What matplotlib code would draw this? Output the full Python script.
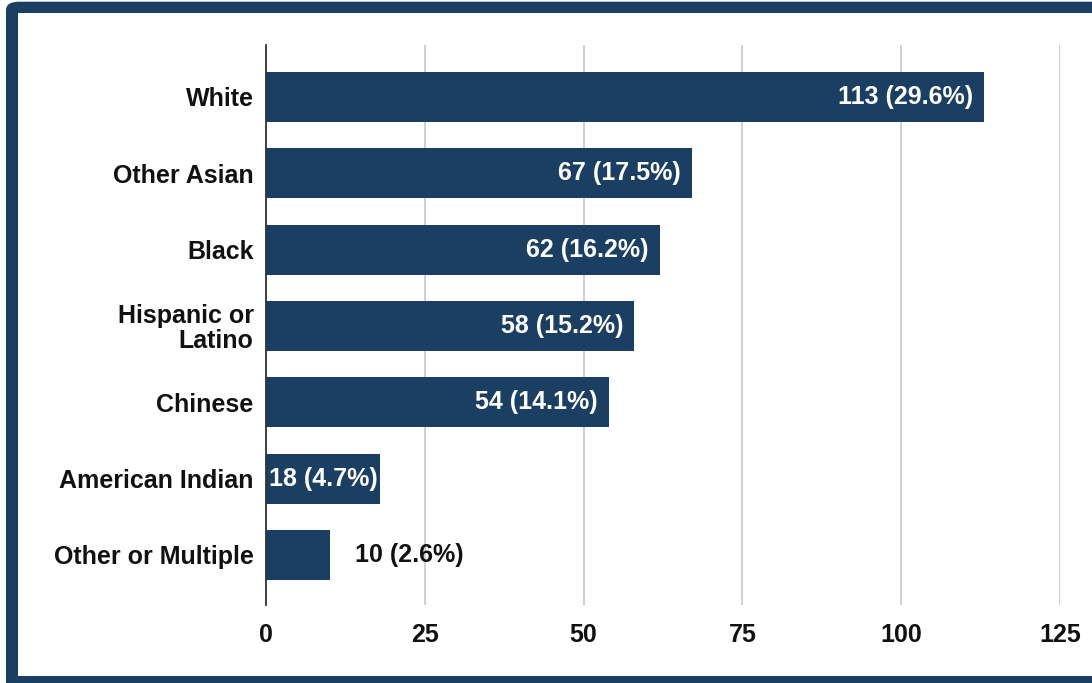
import matplotlib
matplotlib.use("Agg")
import matplotlib.pyplot as plt
from matplotlib.patches import FancyBboxPatch, Rectangle

plt.rcParams['font.family'] = ['Liberation Sans', 'DejaVu Sans']
plt.rcParams['font.weight'] = 'bold'

groups = ["White", "Other Asian", "Black", "Hispanic or\nLatino", "Chinese",
          "American Indian", "Other or Multiple"]
counts = [113, 67, 62, 58, 54, 18, 10]
shares = [29.6, 17.5, 16.2, 15.2, 14.1, 4.7, 2.6]
xticks = [0, 25, 50, 75, 100, 125]

navy = "#1b3f62"
W, H = 1092, 683
fs = 18

fig = plt.figure(figsize=(W / 100, H / 100), dpi=100, facecolor="white")

# navy frame, clipped on the right and bottom by the canvas
frame = FancyBboxPatch((6 / W, 1 - 700 / H), 1100 / W, (700 - 1.7) / H,
                       boxstyle="round,pad=0,rounding_size=0.012",
                       transform=fig.transFigure, facecolor=navy,
                       edgecolor="none", zorder=0)
fig.patches.append(frame)
inner = Rectangle((17.5 / W, 1 - 676 / H), 1100 / W, (676 - 13.3) / H,
                  transform=fig.transFigure, facecolor="white",
                  edgecolor="none", zorder=1)
fig.patches.append(inner)

ax = fig.add_axes([266 / W, 1 - 605 / H, (1060 - 266) / W, (605 - 45) / H])
ax.set_facecolor("none")
ax.set_zorder(2)

ypos = list(range(len(groups)))
ax.barh(ypos, counts, height=0.655, color=navy, zorder=3)

ax.set_xlim(0, 125)
ax.set_ylim(6.655, -0.68)
ax.set_xticks(xticks)
ax.set_xticklabels([str(t) for t in xticks], fontsize=fs, color="#111111")
ax.set_yticks(ypos)
ax.set_yticklabels(groups, fontsize=fs, color="#111111", linespacing=1.02)
ax.tick_params(axis="both", length=0)
ax.tick_params(axis="x", pad=13)
ax.tick_params(axis="y", pad=9)

for s in ["top", "right", "bottom"]:
    ax.spines[s].set_visible(False)
ax.spines["left"].set_color("#333333")
ax.spines["left"].set_linewidth(1.3)
ax.spines["left"].set_zorder(4)

ax.grid(axis="x", color="#cccccc", linewidth=1.3, zorder=0)
ax.grid(axis="y", visible=False)

# value labels: inside the bar when they fit, otherwise just past its end
fig.canvas.draw()
renderer = fig.canvas.get_renderer()
px_per_unit = (1060 - 266) / 125
for y, c, p in zip(ypos, counts, shares):
    label = f"{c} ({p}%)"
    t = ax.text(0, y, label, fontsize=fs, va="center", ha="left", zorder=5)
    tw = t.get_window_extent(renderer).width / px_per_unit
    pad = 11 / px_per_unit
    if tw + 2 * pad <= c:
        t.set_x(c - pad)
        t.set_ha("right")
        t.set_color("white")
    elif tw + 2 / px_per_unit <= c:
        t.set_x(c - 3 / px_per_unit)
        t.set_ha("right")
        t.set_color("white")
    else:
        t.set_x(c + 25 / px_per_unit)
        t.set_color("#111111")

fig.savefig("out.png", dpi=100, facecolor="white")
